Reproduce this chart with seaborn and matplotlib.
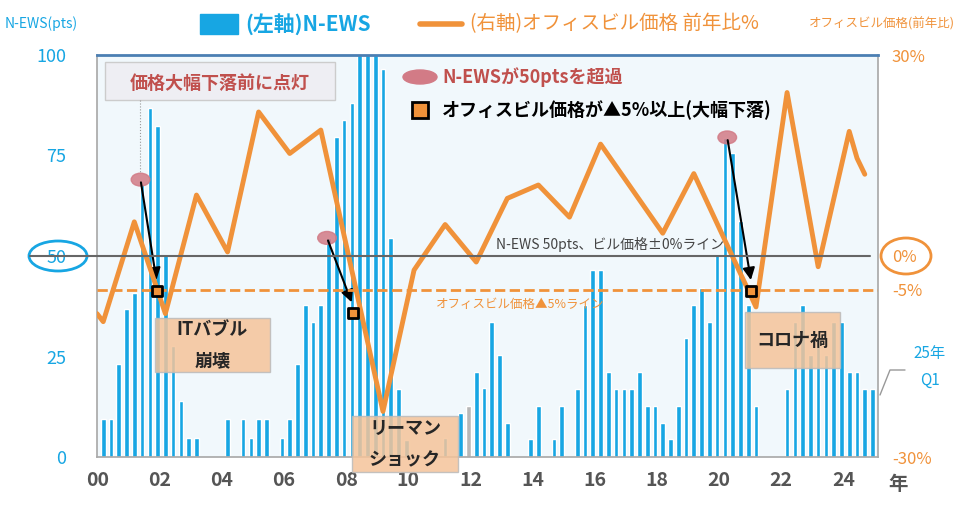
import matplotlib
matplotlib.use("Agg")
import matplotlib.pyplot as plt
import seaborn as sns
import numpy as np
import pandas as pd
from matplotlib.patches import Ellipse, Rectangle

sns.set_theme(style="white")
plt.rcParams['font.family'] = ['Noto Sans CJK JP', 'DejaVu Sans']

# N-EWS quarterly (2000Q1 ... ), pts
news = [9.4, 9.4, 23.1, 36.7, 40.7, 68, 86.9, 82.3, 50.2, 27.6, 13.9, 4.8,
        4.8, 0, 0, 0, 9.4, 0, 9.4, 4.8, 9.4, 9.4, 0, 4.8,
        9.4, 23.1, 37.8, 33.7, 37.8, 54.4, 79.7, 83.8, 88.1, 100, 100, 100,
        96.4, 54.6, 16.8, 4.2, 0, 0, 0, 0, 4.8, 0, 10.9, 12.7,
        21.2, 17.1, 33.7, 25.4, 8.5, 0, 0, 4.4, 12.7, 0, 4.4, 12.7,
        0, 16.8, 37.8, 46.4, 46.4, 21.2, 16.8, 16.8, 16.8, 21.2, 12.7, 12.7,
        8.5, 4.4, 12.7, 29.5, 37.8, 42, 33.7, 50.2, 79.3, 75.5, 58.8, 37.8,
        12.7, 0, 0, 0, 16.8, 33.7, 37.8, 25.4, 29.5, 25.4, 33.7, 33.7,
        21.2, 21.2, 16.8, 16.8]
grey_bars = [47]
# Office price YoY %, positions in quarter index
price_pos = [-0.8, 0, 4, 8, 12, 16, 20, 24, 28, 36, 40, 44, 48, 52, 56, 60, 64,
             72, 76, 84, 88, 92, 96, 97, 98]
price_val = [-8.6, -9.8, 5.1, -8.6, 9.1, 0.6, 21.5, 15.3, 18.8, -23.2, -2.1, 4.7, -0.9,
             8.6, 10.6, 5.8, 16.7, 3.4, 12.3, -7.6, 24.4, -1.6, 18.6, 14.6, 12.2]
xtick_labels = ["00", "02", "04", "06", "08", "10", "12", "14", "16", "18", "20", "22", "24"]

BLUE = "#17a6e3"
ORANGE = "#f0923a"
W, H = 960, 507
fig = plt.figure(figsize=(W/100, H/100), dpi=100)
fig.patch.set_facecolor("white")
ax = fig.add_axes([97/W, 1-457/H, (878-97)/W, (457-55)/H])
ax.set_facecolor("#f1f8fc")

df = pd.DataFrame({"q": np.arange(len(news)), "v": news})
cols = ["#b7b7b7" if i in grey_bars else BLUE for i in range(len(news))]
ax.bar(df["q"], df["v"], width=0.6, color=cols, zorder=2)
ax.set_xlim(-0.8, 99.7)
ax.set_ylim(0, 100)
ax.set_yticks([0, 25, 50, 75, 100])
ax.set_yticklabels(["0", "25", "50", "75", "100"], color=BLUE, fontsize=13)
ax.set_xticks([8*k - 0.75 for k in range(13)])
ax.set_xticklabels(xtick_labels, color="#555555", fontsize=14, fontweight="bold")
ax.tick_params(axis="both", length=4, color="#999999", pad=6)
ax.tick_params(axis="y", length=0, pad=22)
for s in ["left", "right", "bottom"]:
    ax.spines[s].set_color("#aaaaaa")
ax.spines["top"].set_color("#4b7fb3")
ax.spines["top"].set_linewidth(2)

ax2 = ax.twinx()
sns.lineplot(x=price_pos, y=price_val, ax=ax2, color=ORANGE, lw=3.5, zorder=3)
ax2.set_ylim(-30, 30)
ax2.set_xlim(-0.8, 99.7)
ax2.set_yticks([30, 0, -5, -30])
ax2.set_yticklabels(["30%", "0%", "-5%", "-30%"], color=ORANGE, fontsize=12)
ax2.tick_params(axis="y", length=0, pad=10)
ax2.axhline(-5, color=ORANGE, ls="--", lw=2, zorder=2)
for s in ax2.spines.values():
    s.set_visible(False)

def f(x, y):
    return (x / W, 1 - y / H)

# 50 line extending left
fig.add_artist(plt.Line2D([30/W, 870/W], [1-256/H]*2, color="#666666", lw=1.5))
fig.add_artist(Ellipse(f(58, 256), 58/W, 30/H, fill=False, ec=BLUE, lw=2))
fig.add_artist(Ellipse(f(906, 256), 50/W, 36/H, fill=False, ec=ORANGE, lw=2))
fig.text(*f(610, 244), "N-EWS 50pts、ビル価格±0%ライン", fontsize=10, color="#444444", ha="center", va="center")
fig.text(*f(520, 304), "オフィスビル価格▲5%ライン", fontsize=9, color=ORANGE, ha="center", va="center")

# signals
sig = [(4.8, 69, 6.9, -5.2), (28.8, 54.5, 32.1, -8.5), (80.3, 79.5, 83.4, -5.2)]
for xe, ye, xs, ps in sig:
    ax.add_patch(Ellipse((xe, ye), 2.4, 3.2, color="#d27b86", alpha=0.85, zorder=4))
    yl = (ps + 30) / 60 * 100
    ax.annotate("", xy=(xs, yl + 2), xytext=(xe, ye), zorder=5,
                arrowprops=dict(arrowstyle="-|>", color="black", lw=1.5, mutation_scale=18))
    ax2.scatter([xs], [ps], marker="s", s=60, color=ORANGE, edgecolor="black", linewidth=2, zorder=6)

# legend-like annotations
fig.add_artist(Ellipse(f(420, 77), 34/W, 14/H, color="#d27b86"))
fig.text(*f(442, 77), "N-EWSが50ptsを超過", fontsize=13, fontweight="bold", color="#c0504d", va="center")
fig.add_artist(Rectangle(f(412, 118), 16/W, 16/H, fc=ORANGE, ec="black", lw=2))
fig.text(*f(442, 110), "オフィスビル価格が▲5%以上(大幅下落)", fontsize=13, fontweight="bold", color="black", va="center")
fig.add_artist(Rectangle(f(105, 100), 230/W, 38/H, fc="#eeeef3", ec="#cccccc", lw=1))
fig.text(*f(220, 83), "価格大幅下落前に点灯", fontsize=13, fontweight="bold", color="#c0504d", ha="center", va="center")
fig.add_artist(plt.Line2D([140/W]*2, [1-100/H, 1-172/H], color="#999999", lw=0.8, ls=":"))

# event boxes
for x0, y0, x1, y1, txt in [(155, 318, 270, 372, "ITバブル\n崩壊"), (352, 416, 458, 472, "リーマン\nショック"),
                            (745, 312, 840, 368, "コロナ禍")]:
    fig.add_artist(Rectangle(f(x0, y1), (x1-x0)/W, (y1-y0)/H, fc="#f5c49a", ec="#bbbbbb", alpha=0.85, zorder=10))
    fig.text(*f((x0+x1)/2, (y0+y1)/2), txt, fontsize=13, fontweight="bold", ha="center", va="center",
             linespacing=1.8, zorder=11)

# headers
fig.add_artist(Rectangle(f(200, 34), 38/W, 20/H, color=BLUE))
fig.text(*f(245, 24), "(左軸)N-EWS", fontsize=15, fontweight="bold", color=BLUE, va="center")
fig.add_artist(plt.Line2D([420/W, 462/W], [1-24/H]*2, color=ORANGE, lw=4))
fig.text(*f(470, 24), "(右軸)オフィスビル価格 前年比%", fontsize=14, color=ORANGE, va="center")
fig.text(*f(5, 24), "N-EWS(pts)", fontsize=10, color=BLUE, va="center")
fig.text(*f(955, 24), "オフィスビル価格(前年比)", fontsize=9, color=ORANGE, va="center", ha="right")
fig.text(*f(930, 367), "25年\nQ1", fontsize=11, color=BLUE, ha="center", va="center", linespacing=1.8)
fig.add_artist(plt.Line2D([880/W, 890/W, 905/W], [1-395/H, 1-370/H, 1-370/H], color="#999999", lw=1))
fig.text(*f(898, 485), "年", fontsize=14, fontweight="bold", color="#555555", ha="center", va="center")

fig.savefig("out.png", dpi=100)
